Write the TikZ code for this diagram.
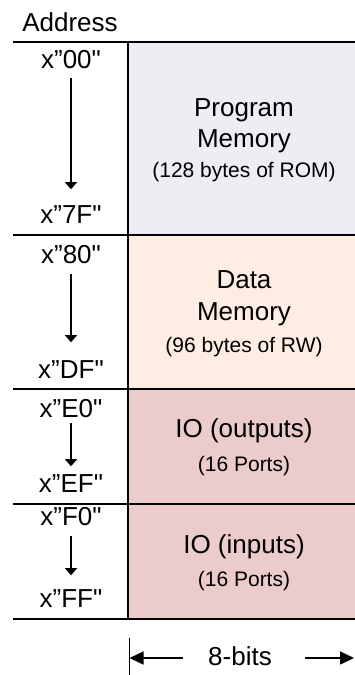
\documentclass[tikz,border=0pt]{standalone}
\usepackage{fontspec}
\setmainfont{Liberation Sans}[Ligatures=TeXOff]
\usetikzlibrary{arrows.meta}
\definecolor{progc}{RGB}{239,236,243}
\definecolor{datac}{RGB}{253,237,226}
\definecolor{ioc}{RGB}{235,203,203}
\begin{document}
\begin{tikzpicture}[x=1pt,y=-1pt,
  big/.style={font=\fontsize{26}{26}\selectfont, inner sep=0pt, anchor=base},
  small/.style={font=\fontsize{21}{21}\selectfont, inner sep=0pt, anchor=base},
  thinline/.style={line width=1.6pt},
  thickline/.style={line width=2.8pt},
  addr/.style={line width=1.5pt, -{Triangle[length=7pt,width=12pt]}},
  dim/.style={line width=1.5pt, -{Triangle[length=14pt,width=13pt]}}]
\useasboundingbox (0,0) rectangle (354,675);
% fills
\fill[progc] (128,42) rectangle (362,235);
\fill[datac] (128,235) rectangle (362,389);
\fill[ioc] (128,389) rectangle (362,619);
% left thin lines
\foreach \y in {42,235,389,504,619} \draw[thinline] (13,\y) -- (128,\y);
% box lines
\foreach \y in {42,235,389,504,619} \draw[thickline] (128,\y) -- (362,\y);
\draw[thickline] (128,40.6) -- (128,620.4);
% header
\node[big] (addrlbl) at (70,31) {Address};
% address labels
\node[big] (a00) at (71,68) {x”00"};
\node[big] (a7F) at (71,223) {x”7F"};
\node[big] (a80) at (71,263) {x”80"};
\node[big] (aDF) at (71,378) {x”DF"};
\node[big] (aE0) at (71,417) {x”E0"};
\node[big] (aEF) at (71,492) {x”EF"};
\node[big] (aF0) at (71,525) {x”F0"};
\node[big] (aFF) at (71,607) {x”FF"};
\draw[addr, shorten <=9.7pt, shorten >=15.7pt] (a00.south) -- (a7F.north);
\draw[addr, shorten <=10.7pt, shorten >=17.7pt] (a80.south) -- (aDF.north);
\draw[addr, shorten <=5.7pt, shorten >=7.7pt] (aE0.south) -- (aEF.north);
\draw[addr, shorten <=11pt, shorten >=13.7pt] (aF0.south) -- (aFF.north);
% box texts
\node[big] (p1) at (244,116) {Program};
\node[big] (p2) at (244,147) {Memory};
\node[small] (p3) at (244,177) {(128 bytes of ROM)};
\node[big] (d1) at (244,288) {Data};
\node[big] (d2) at (244,320) {Memory};
\node[small] (d3) at (244,352) {(96 bytes of RW)};
\node[big] (o1) at (244,437) {IO (outputs)};
\node[small] (o2) at (244,471) {(16 Ports)};
\node[big] (i1) at (244,553) {IO (inputs)};
\node[small] (i2) at (244,586) {(16 Ports)};
% 8-bits
\node[big, anchor=center] (bits) at (240,656) {8-bits};
\coordinate (tickT) at (129.5,638);
\coordinate (tickB) at (129.5,676);
\coordinate (lefttip) at (129.5,658);
\coordinate (righttip) at (354,658);
\draw[line width=1.5pt] (tickT) -- (tickB);
\draw[dim, shorten <=25pt] (bits.west |- lefttip) -- (lefttip);
\draw[dim, shorten <=33pt] (bits.east |- righttip) -- (righttip);
\end{tikzpicture}
\end{document}
